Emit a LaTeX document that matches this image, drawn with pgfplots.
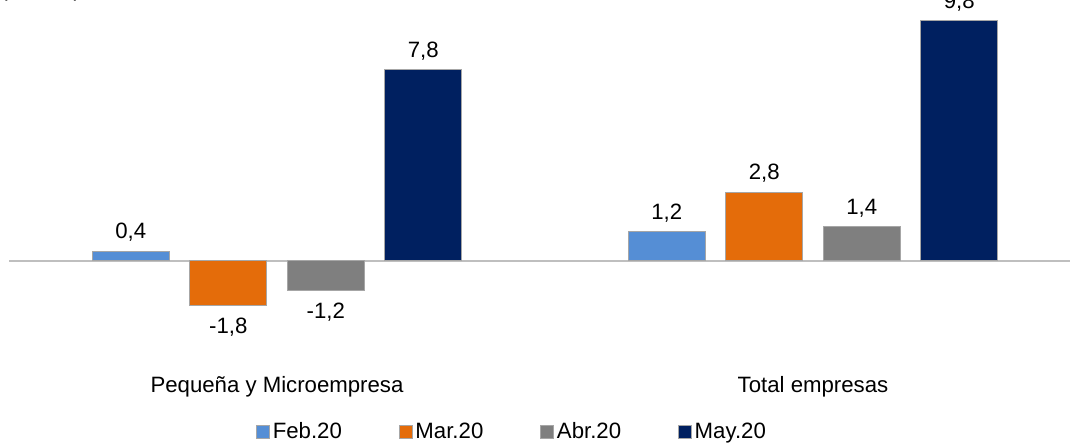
\documentclass[border=0pt]{standalone}
\usepackage{fontspec}
\setmainfont{Liberation Sans}
\usepackage{pgfplots}
\pgfplotsset{compat=1.18}
\definecolor{cFeb}{HTML}{558ED5}
\definecolor{cMar}{HTML}{E46C0A}
\definecolor{cAbr}{HTML}{7F7F7F}
\definecolor{cMay}{HTML}{002060}
\definecolor{cEdge}{HTML}{A6A6A6}
\definecolor{cZero}{HTML}{BFBFBF}
\begin{document}
\begin{tikzpicture}[font=\fontsize{11.1}{13}\selectfont]
\useasboundingbox (0,0) rectangle (535pt,221.5pt);
\clip (0,0) rectangle (535pt,221.5pt);
\begin{axis}[
  at={(0,0)}, anchor=south west,
  scale only axis, width=535pt, height=221.5pt,
  xmin=-0.5168, xmax=1.4795, ymin=-7.429, ymax=10.653,
  axis line style={draw=none},
  ytick=\empty,
  xtick={0,1},
  xticklabels={Pequeña y Microempresa, Total empresas},
  xtick style={draw=none},
  xticklabel style={anchor=base, yshift=29.5pt},
  ybar=10.25pt, bar width=38.5pt,
  legend image code/.code={\draw[#1, line width=0.3pt] (0pt,-3.25pt) rectangle (6.5pt,3.25pt);},
  legend columns=4,
  legend style={draw=none, fill=none, inner sep=0pt, at={(0.4776,0.0248)}, anchor=center,
    nodes={inner sep=0pt},
    /tikz/every odd column/.append style={column sep=1.5pt},
    /tikz/every even column/.append style={column sep=28.5pt}},
  nodes near coords,
  every node near coord/.append style={text height=7.95pt, text depth=0pt, inner ysep=6pt},
  /pgf/number format/.cd, use comma, fixed, fixed zerofill, precision=1, assume math mode=true,
]
\draw[cZero, line width=1pt] (axis cs:-0.5,0) -- (axis cs:1.6,0);
\addplot[fill=cFeb, draw=cEdge, line width=0.5pt] coordinates {(0,0.4) (1,1.2)};
\addplot[fill=cMar, draw=cEdge, line width=0.5pt] coordinates {(0,-1.8) (1,2.8)};
\addplot[fill=cAbr, draw=cEdge, line width=0.5pt] coordinates {(0,-1.2) (1,1.4)};
\addplot[fill=cMay, draw=cEdge, line width=0.5pt] coordinates {(0,7.8) (1,9.8)};
\legend{Feb.20, Mar.20, Abr.20, May.20}
\end{axis}
\node[anchor=base west, inner sep=0pt] at (0pt,223pt) {(Var. \%)};
\end{tikzpicture}
\end{document}
